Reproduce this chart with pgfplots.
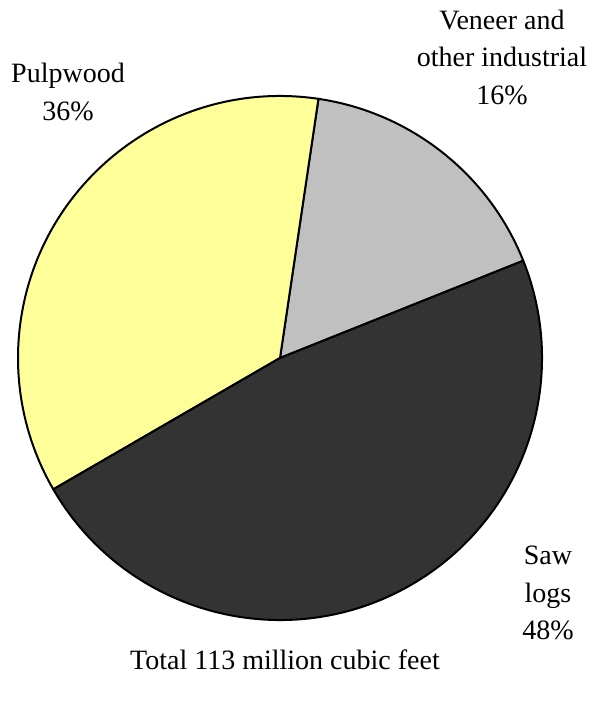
\documentclass[border=0pt]{standalone}
\usepackage{pgfplots}
\pgfplotsset{compat=1.18}
\usepackage{fontspec}
\setmainfont{Liberation Serif}
\definecolor{pulp}{RGB}{255,255,153}
\definecolor{veneer}{RGB}{192,192,192}
\definecolor{saw}{RGB}{51,51,51}
% shares (percent)
\def\vVeneer{16.6}
\def\vPulp{35.7}
\def\vSaw{47.7}
\def\aStart{21.8}
\pgfmathsetmacro\aA{\aStart}
\pgfmathsetmacro\aB{\aA+3.6*\vVeneer}
\pgfmathsetmacro\aC{\aB+3.6*\vPulp}
\begin{document}
\begin{tikzpicture}
\begin{axis}[x=1pt,y=1pt,xmin=0,xmax=595,ymin=0,ymax=701,
  hide axis,scale only axis,clip=false]
\path (axis cs:0,0) rectangle (axis cs:595,701);
\filldraw[fill=veneer,draw=black,line width=2pt,line join=round]
  (axis cs:280,343) -- ++(\aA:262pt) arc[start angle=\aA,delta angle=3.6*\vVeneer,radius=262pt] -- cycle;
\filldraw[fill=pulp,draw=black,line width=2pt,line join=round]
  (axis cs:280,343) -- ++(\aB:262pt) arc[start angle=\aB,delta angle=3.6*\vPulp,radius=262pt] -- cycle;
\filldraw[fill=saw,draw=black,line width=2pt,line join=round]
  (axis cs:280,343) -- ++(\aC:262pt) arc[start angle=\aC,delta angle=3.6*\vSaw,radius=262pt] -- cycle;
\node[align=center,font=\fontsize{28}{37.5}\selectfont] at (axis cs:68,609) {Pulpwood\\36\%};
\node[align=center,font=\fontsize{28}{37.5}\selectfont] at (axis cs:502,644) {Veneer and\\other industrial\\16\%};
\node[align=center,font=\fontsize{28}{37.5}\selectfont] at (axis cs:548,108) {Saw\\logs\\48\%};
\node[align=center,font=\fontsize{28}{37.5}\selectfont] at (axis cs:285,41) {Total 113 million cubic feet};
\end{axis}
\end{tikzpicture}
\end{document}
